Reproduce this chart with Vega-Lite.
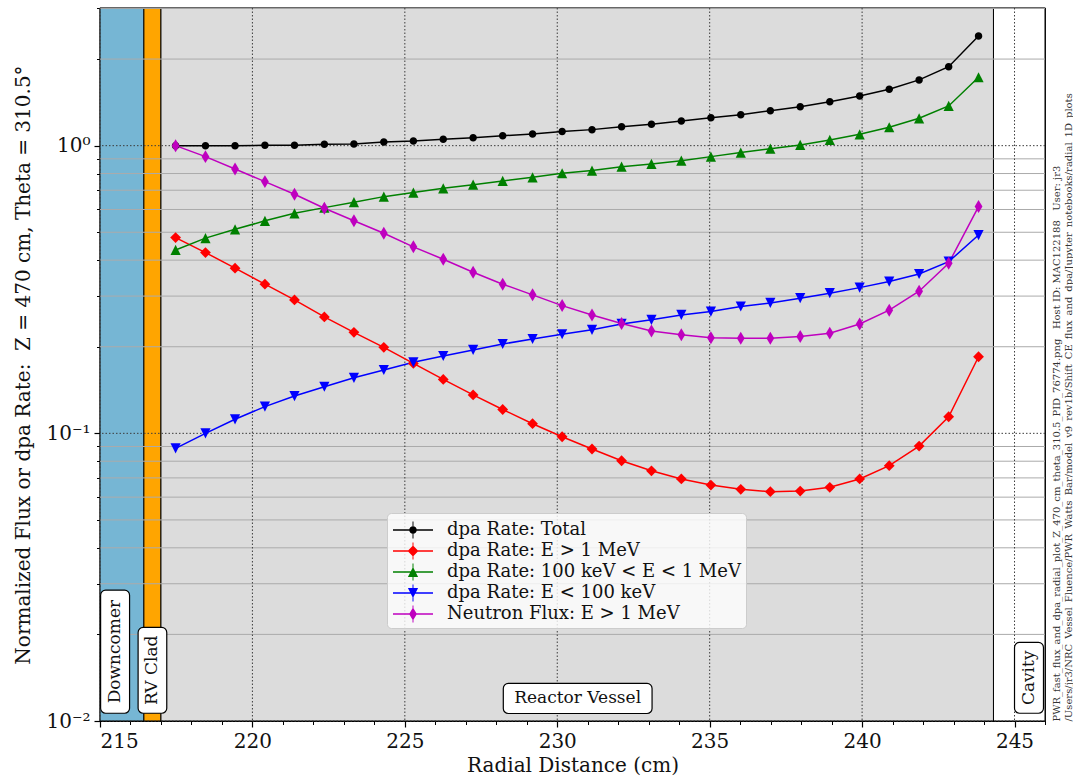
{
  "$schema": "https://vega.github.io/schema/vega-lite/v6.json",
  "width": 945,
  "height": 713,
  "autosize": {"type": "none"},
  "padding": {"left": 100, "top": 8, "right": 28, "bottom": 62},
  "config": {
    "font": "DejaVu Serif",
    "view": {"stroke": "#000", "strokeWidth": 1.2},
    "axis": {"labelFont": "DejaVu Serif", "titleFont": "DejaVu Serif", "labelColor": "#111", "titleColor": "#111", "domainColor": "#000", "tickColor": "#000", "titleFontWeight": "normal", "domainWidth": 1.2}
  },
  "datasets": {
    "regions": [
      {"region": "Downcomer", "x0": 215, "x1": 216.44},
      {"region": "RV Clad", "x0": 216.44, "x1": 217.0},
      {"region": "Reactor Vessel", "x0": 217.0, "x1": 244.31},
      {"region": "Cavity", "x0": 244.31, "x1": 246}
    ],
    "vgrid": [{"gx": 215}, {"gx": 220}, {"gx": 225}, {"gx": 230}, {"gx": 235}, {"gx": 240}, {"gx": 245}],
    "hminor": [{"gy": 0.02}, {"gy": 0.03}, {"gy": 0.04}, {"gy": 0.05}, {"gy": 0.06}, {"gy": 0.07}, {"gy": 0.08}, {"gy": 0.09}, {"gy": 0.2}, {"gy": 0.3}, {"gy": 0.4}, {"gy": 0.5}, {"gy": 0.6}, {"gy": 0.7}, {"gy": 0.8}, {"gy": 0.9}, {"gy": 2}, {"gy": 3}],
    "hmajor": [{"gy": 0.01}, {"gy": 0.1}, {"gy": 1}],
    "main": [
      {"x": 217.48, "total": 1.000, "fast": 0.479, "mid": 0.434, "low": 0.0887, "flux": 1.000},
      {"x": 218.46, "total": 1.000, "fast": 0.425, "mid": 0.477, "low": 0.100, "flux": 0.916},
      {"x": 219.43, "total": 1.000, "fast": 0.375, "mid": 0.512, "low": 0.1119, "flux": 0.830},
      {"x": 220.41, "total": 1.003, "fast": 0.330, "mid": 0.548, "low": 0.1238, "flux": 0.750},
      {"x": 221.38, "total": 1.003, "fast": 0.291, "mid": 0.582, "low": 0.1348, "flux": 0.678},
      {"x": 222.36, "total": 1.011, "fast": 0.254, "mid": 0.609, "low": 0.1452, "flux": 0.606},
      {"x": 223.33, "total": 1.014, "fast": 0.2245, "mid": 0.636, "low": 0.156, "flux": 0.548},
      {"x": 224.31, "total": 1.030, "fast": 0.199, "mid": 0.665, "low": 0.166, "flux": 0.496},
      {"x": 225.28, "total": 1.038, "fast": 0.175, "mid": 0.687, "low": 0.1765, "flux": 0.445},
      {"x": 226.26, "total": 1.052, "fast": 0.154, "mid": 0.711, "low": 0.1857, "flux": 0.403},
      {"x": 227.24, "total": 1.066, "fast": 0.136, "mid": 0.732, "low": 0.1949, "flux": 0.363},
      {"x": 228.21, "total": 1.083, "fast": 0.121, "mid": 0.754, "low": 0.2044, "flux": 0.330},
      {"x": 229.19, "total": 1.098, "fast": 0.108, "mid": 0.776, "low": 0.2128, "flux": 0.303},
      {"x": 230.16, "total": 1.119, "fast": 0.0973, "mid": 0.802, "low": 0.221, "flux": 0.278},
      {"x": 231.14, "total": 1.137, "fast": 0.0882, "mid": 0.819, "low": 0.229, "flux": 0.258},
      {"x": 232.11, "total": 1.164, "fast": 0.0803, "mid": 0.845, "low": 0.240, "flux": 0.241},
      {"x": 233.09, "total": 1.187, "fast": 0.0741, "mid": 0.864, "low": 0.248, "flux": 0.227},
      {"x": 234.07, "total": 1.219, "fast": 0.0694, "mid": 0.887, "low": 0.258, "flux": 0.220},
      {"x": 235.04, "total": 1.251, "fast": 0.0661, "mid": 0.916, "low": 0.265, "flux": 0.215},
      {"x": 236.02, "total": 1.282, "fast": 0.0639, "mid": 0.946, "low": 0.276, "flux": 0.214},
      {"x": 236.99, "total": 1.323, "fast": 0.0627, "mid": 0.976, "low": 0.284, "flux": 0.214},
      {"x": 237.97, "total": 1.366, "fast": 0.0630, "mid": 1.006, "low": 0.295, "flux": 0.217},
      {"x": 238.94, "total": 1.422, "fast": 0.0649, "mid": 1.047, "low": 0.307, "flux": 0.223},
      {"x": 239.92, "total": 1.489, "fast": 0.0694, "mid": 1.095, "low": 0.321, "flux": 0.240},
      {"x": 240.89, "total": 1.570, "fast": 0.0772, "mid": 1.159, "low": 0.337, "flux": 0.268},
      {"x": 241.87, "total": 1.693, "fast": 0.0903, "mid": 1.245, "low": 0.358, "flux": 0.312},
      {"x": 242.84, "total": 1.882, "fast": 0.1142, "mid": 1.374, "low": 0.395, "flux": 0.390},
      {"x": 243.82, "total": 2.405, "fast": 0.1846, "mid": 1.729, "low": 0.489, "flux": 0.614}
    ],
    "boxes": [
      {"label": "Downcomer", "bx0": 215.02, "bx1": 215.97, "by0": 0.01064, "by1": 0.0285},
      {"label": "RV Clad", "bx0": 216.25, "bx1": 217.19, "by0": 0.01064, "by1": 0.02115},
      {"label": "Reactor Vessel", "bx0": 228.23, "bx1": 233.11, "by0": 0.01062, "by1": 0.01351},
      {"label": "Cavity", "bx0": 245.0, "bx1": 245.95, "by0": 0.01064, "by1": 0.01876}
    ],
    "vlabels": [
      {"label": "Downcomer", "lx": 215.495, "ly": 0.01743},
      {"label": "RV Clad", "lx": 216.72, "ly": 0.01501},
      {"label": "Cavity", "lx": 245.475, "ly": 0.01413}
    ],
    "hlabels": [
      {"label": "Reactor Vessel", "lx": 230.67, "ly": 0.01199}
    ]
  },
  "layer": [
    {
      "data": {"name": "regions"},
      "mark": {"type": "rect", "stroke": "#000", "strokeWidth": 1},
      "encoding": {
        "x": {"field": "x0", "type": "quantitative", "scale": {"domain": [215, 246], "nice": false, "zero": false},
          "axis": {"orient": "bottom", "values": [215, 220, 225, 230, 235, 240, 245], "grid": false, "tickSize": 6, "tickWidth": 1.2, "labelFontSize": 20, "labelPadding": 4, "title": "Radial Distance (cm)", "titleFontSize": 20, "titlePadding": 4}},
        "x2": {"field": "x1"},
        "fill": {"field": "region", "type": "nominal", "scale": {"domain": ["Downcomer", "RV Clad", "Reactor Vessel", "Cavity"], "range": ["#76b6d4", "#ffa500", "#dcdcdc", "#ffffff"]}, "legend": null}
      }
    },
    {
      "data": {"name": "hminor"},
      "mark": {"type": "rule", "color": "#ababab", "strokeWidth": 1},
      "encoding": {
        "y": {"field": "gy", "type": "quantitative", "scale": {"type": "log", "domain": [0.01, 3.01], "nice": false},
          "axis": {"orient": "left", "values": [0.02, 0.03, 0.04, 0.05, 0.06, 0.07, 0.08, 0.09, 0.2, 0.3, 0.4, 0.5, 0.6, 0.7, 0.8, 0.9, 2, 3], "labels": false, "tickSize": 3.5, "domain": false, "grid": false, "title": null}}
      }
    },
    {
      "data": {"name": "vgrid"},
      "mark": {"type": "rule", "color": "#3c3c3c", "strokeWidth": 1, "strokeDash": [1.5, 2]},
      "encoding": {
        "x": {"field": "gx", "type": "quantitative", "scale": {"domain": [215, 246], "nice": false, "zero": false},
          "axis": {"orient": "bottom", "values": [216, 217, 218, 219, 221, 222, 223, 224, 226, 227, 228, 229, 231, 232, 233, 234, 236, 237, 238, 239, 241, 242, 243, 244, 246], "labels": false, "tickSize": 3.5, "domain": false, "grid": false, "title": null}}
      }
    },
    {
      "data": {"name": "hmajor"},
      "mark": {"type": "rule", "color": "#3c3c3c", "strokeWidth": 1, "strokeDash": [1.5, 2]},
      "encoding": {
        "y": {"field": "gy", "type": "quantitative", "scale": {"type": "log", "domain": [0.01, 3.01], "nice": false},
          "axis": {"orient": "left", "values": [0.01, 0.1, 1], "labelExpr": "datum.value >= 0.99 ? '10⁰' : datum.value >= 0.099 ? '10⁻¹' : '10⁻²'", "grid": false, "tickSize": 6, "tickWidth": 1.2, "labelFontSize": 20, "labelPadding": 4, "title": "Normalized Flux or dpa Rate:\u00a0 Z = 470 cm, Theta = 310.5°", "titleFontSize": 20, "titlePadding": 12}}
      }
    },
    {
      "data": {"name": "main"},
      "transform": [{"fold": ["total", "fast", "mid", "low", "flux"], "as": ["series", "y"]}],
      "mark": {"type": "line", "strokeWidth": 1.5},
      "encoding": {
        "x": {"field": "x", "type": "quantitative", "scale": {"domain": [215, 246], "nice": false, "zero": false}, "axis": null},
        "y": {"field": "y", "type": "quantitative", "scale": {"type": "log", "domain": [0.01, 3.01], "nice": false}, "axis": null},
        "stroke": {"field": "series", "type": "nominal", "scale": {"domain": ["flux", "low", "mid", "fast", "total"], "range": ["#bf00bf", "#0000ff", "#008000", "#ff0000", "#000000"]}, "legend": null},
        "detail": {"field": "series"}
      }
    },
    {
      "data": {"name": "main"},
      "transform": [{"fold": ["total", "fast", "mid", "low", "flux"], "as": ["series", "y"]}],
      "mark": {"type": "point", "filled": true, "size": 144, "opacity": 1, "strokeWidth": 0},
      "encoding": {
        "x": {"field": "x", "type": "quantitative", "scale": {"domain": [215, 246], "nice": false, "zero": false}, "axis": null},
        "y": {"field": "y", "type": "quantitative", "scale": {"type": "log", "domain": [0.01, 3.01], "nice": false},
          "axis": {"orient": "right", "labels": false, "ticks": false, "domain": false, "grid": false, "title": ["PWR_fast_flux_and_dpa_radial_plot_Z_470_cm_theta_310.5_PID_76774.png\u00a0\u00a0 Host ID: MAC122188\u00a0\u00a0 User: jr3", "/Users/jr3/NRC_Vessel_Fluence/PWR_Watts_Bar/model_v9_rev1b/Shift_CE_flux_and_dpa/Jupyter_notebooks/radial_1D_plots"], "titleAngle": 270, "titleAnchor": "start", "titleFontSize": 10, "titlePadding": 4, "titleColor": "#333"}},
        "color": {"field": "series", "type": "nominal", "scale": {"domain": ["total", "fast", "mid", "low", "flux"], "range": ["#000000", "#ff0000", "#008000", "#0000ff", "#bf00bf"]},
          "legend": {
            "title": null, "orient": "none", "legendX": 287, "legendY": 505,
            "fillColor": "rgba(255,255,255,0.8)", "strokeColor": "#cccccc", "cornerRadius": 4, "padding": 5,
            "labelFontSize": 18, "labelFont": "DejaVu Serif", "labelColor": "#111", "labelLimit": 500,
            "symbolSize": 576, "symbolOffset": 9, "labelOffset": 22, "rowPadding": 0, "zindex": 2, "symbolStrokeWidth": 0,
            "labelExpr": "datum.value === 'total' ? 'dpa Rate: Total' : datum.value === 'fast' ? 'dpa Rate: E > 1 MeV' : datum.value === 'mid' ? 'dpa Rate: 100 keV < E < 1 MeV' : datum.value === 'low' ? 'dpa Rate: E < 100 keV' : 'Neutron Flux: E > 1 MeV'",
            "symbolType": {"expr": "datum.value === 'total' ? 'M-1.67,-0.0625H1.67V0.0625H-1.67Z M-0.04,-0.7H0.04V0.7H-0.04Z M-0.3125,0A0.3125,0.3125 0 1,1 0.3125,0A0.3125,0.3125 0 1,1 -0.3125,0Z' : datum.value === 'fast' ? 'M-1.67,-0.0625H1.67V0.0625H-1.67Z M-0.04,-0.7H0.04V0.7H-0.04Z M0,-0.45L0.45,0L0,0.45L-0.45,0Z' : datum.value === 'mid' ? 'M-1.67,-0.0625H1.67V0.0625H-1.67Z M-0.04,-0.7H0.04V0.7H-0.04Z M0,-0.425L0.425,0.425L-0.425,0.425Z' : datum.value === 'low' ? 'M-1.67,-0.0625H1.67V0.0625H-1.67Z M-0.04,-0.7H0.04V0.7H-0.04Z M0,0.425L-0.425,-0.425L0.425,-0.425Z' : 'M-1.67,-0.0625H1.67V0.0625H-1.67Z M-0.04,-0.7H0.04V0.7H-0.04Z M0,-0.54L0.325,0L0,0.54L-0.325,0Z'"}
          }},
        "shape": {"field": "series", "type": "nominal", "scale": {"domain": ["flux", "low", "mid", "fast", "total"], "range": ["M0,-1.08L0.65,0L0,1.08L-0.65,0Z", "M0,0.85L-0.85,-0.85L0.85,-0.85Z", "M0,-0.85L0.85,0.85L-0.85,0.85Z", "M0,-0.9L0.9,0L0,0.9L-0.9,0Z", "M-0.625,0A0.625,0.625 0 1,1 0.625,0A0.625,0.625 0 1,1 -0.625,0Z"]}, "legend": null}
      }
    },
    {
      "data": {"name": "boxes"},
      "mark": {"type": "rect", "fill": "#ffffff", "stroke": "#000", "strokeWidth": 1.2, "cornerRadius": 5},
      "encoding": {
        "x": {"field": "bx0", "type": "quantitative", "scale": {"domain": [215, 246], "nice": false, "zero": false}, "axis": null},
        "x2": {"field": "bx1"},
        "y": {"field": "by0", "type": "quantitative", "scale": {"type": "log", "domain": [0.01, 3.01], "nice": false}, "axis": null},
        "y2": {"field": "by1"}
      }
    },
    {
      "data": {"name": "vlabels"},
      "mark": {"type": "text", "angle": 270, "fontSize": 17, "font": "DejaVu Serif", "color": "#111", "align": "center", "baseline": "middle"},
      "encoding": {
        "x": {"field": "lx", "type": "quantitative", "scale": {"domain": [215, 246], "nice": false, "zero": false}, "axis": null},
        "y": {"field": "ly", "type": "quantitative", "scale": {"type": "log", "domain": [0.01, 3.01], "nice": false}, "axis": null},
        "text": {"field": "label"}
      }
    },
    {
      "data": {"name": "hlabels"},
      "mark": {"type": "text", "fontSize": 17, "font": "DejaVu Serif", "color": "#111", "align": "center", "baseline": "middle"},
      "encoding": {
        "x": {"field": "lx", "type": "quantitative", "scale": {"domain": [215, 246], "nice": false, "zero": false}, "axis": null},
        "y": {"field": "ly", "type": "quantitative", "scale": {"type": "log", "domain": [0.01, 3.01], "nice": false}, "axis": null},
        "text": {"field": "label"}
      }
    }
  ],
  "resolve": {"axis": {"x": "independent", "y": "independent"}}
}
